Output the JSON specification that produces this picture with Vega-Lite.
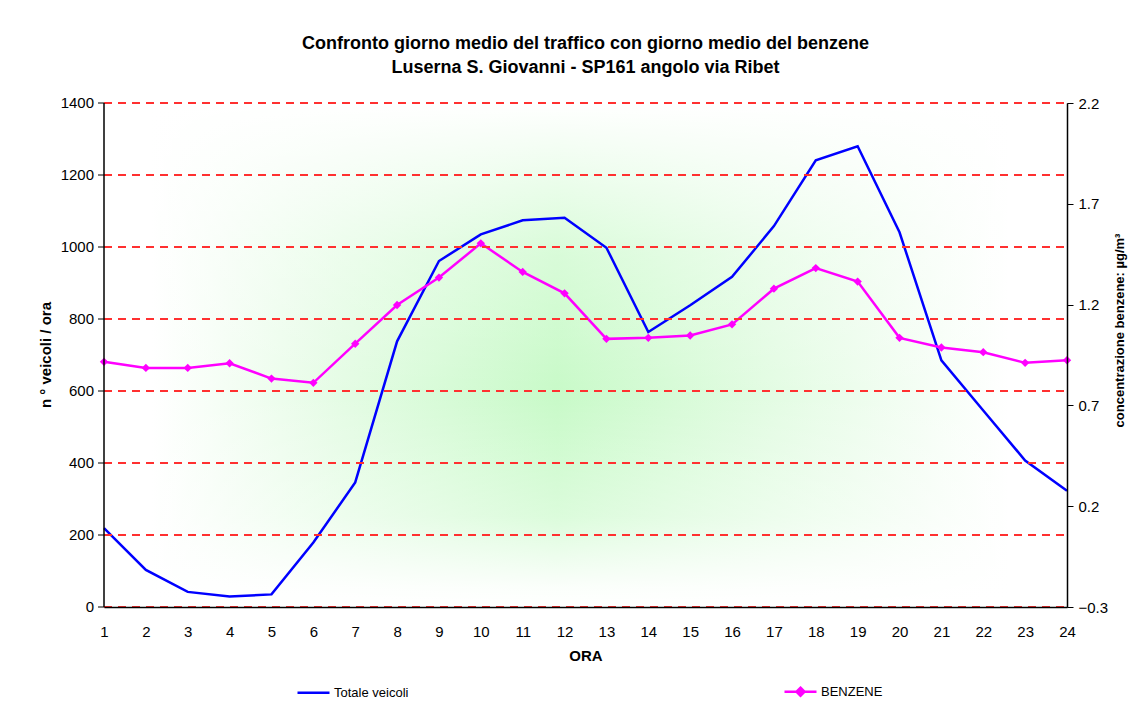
{
  "$schema": "https://vega.github.io/schema/vega-lite/v6.json",
  "autosize": "none",
  "width": 963,
  "height": 504,
  "padding": {"left": 104, "top": 103, "right": 67, "bottom": 96},
  "background": "white",
  "title": {
    "text": ["Confronto giorno medio  del traffico con giorno medio del benzene", "Luserna S. Giovanni - SP161 angolo via Ribet"],
    "font": "Liberation Sans",
    "fontSize": 18,
    "fontWeight": "bold",
    "color": "black",
    "anchor": "middle",
    "lineHeight": 24,
    "offset": 19
  },
  "config": {
    "font": "Liberation Sans",
    "view": {"stroke": "#808080", "strokeWidth": 1},
    "axis": {
      "labelFont": "Liberation Sans",
      "labelFontSize": 15,
      "labelColor": "black",
      "titleFont": "Liberation Sans",
      "titleColor": "black",
      "titleFontWeight": "bold",
      "domainColor": "black",
      "domainWidth": 1.5,
      "tickColor": "black"
    }
  },
  "datasets": {
    "bg": [{"x1": 1, "x2": 24, "y1": 0, "y2": 1400}],
    "hourly": [
      {"ora": 1, "veicoli": 219, "benzene": 0.916},
      {"ora": 2, "veicoli": 103, "benzene": 0.886},
      {"ora": 3, "veicoli": 42, "benzene": 0.886},
      {"ora": 4, "veicoli": 29, "benzene": 0.909},
      {"ora": 5, "veicoli": 35, "benzene": 0.833},
      {"ora": 6, "veicoli": 179, "benzene": 0.812},
      {"ora": 7, "veicoli": 346, "benzene": 1.006},
      {"ora": 8, "veicoli": 738, "benzene": 1.198},
      {"ora": 9, "veicoli": 961, "benzene": 1.334},
      {"ora": 10, "veicoli": 1035, "benzene": 1.504},
      {"ora": 11, "veicoli": 1074, "benzene": 1.362},
      {"ora": 12, "veicoli": 1081, "benzene": 1.256},
      {"ora": 13, "veicoli": 998, "benzene": 1.030},
      {"ora": 14, "veicoli": 764, "benzene": 1.035},
      {"ora": 15, "veicoli": 838, "benzene": 1.047},
      {"ora": 16, "veicoli": 917, "benzene": 1.102},
      {"ora": 17, "veicoli": 1058, "benzene": 1.279},
      {"ora": 18, "veicoli": 1241, "benzene": 1.381},
      {"ora": 19, "veicoli": 1280, "benzene": 1.314},
      {"ora": 20, "veicoli": 1041, "benzene": 1.035},
      {"ora": 21, "veicoli": 685, "benzene": 0.987},
      {"ora": 22, "veicoli": 546, "benzene": 0.964},
      {"ora": 23, "veicoli": 407, "benzene": 0.911},
      {"ora": 24, "veicoli": 323, "benzene": 0.924}
    ]
  },
  "layer": [
    {
      "layer": [
        {
          "data": {"name": "bg"},
          "mark": {
            "type": "rect",
            "fill": {
              "gradient": "linear", "x1": 0, "y1": 0, "x2": 1, "y2": 0,
              "stops": [
                {"offset": 0, "color": "#ffffff"},
                {"offset": 0.05, "color": "#ffffff"},
                {"offset": 0.25, "color": "#e4fce4"},
                {"offset": 0.47, "color": "#c8fac8"},
                {"offset": 0.7, "color": "#e4fce4"},
                {"offset": 0.94, "color": "#ffffff"},
                {"offset": 1, "color": "#ffffff"}
              ]
            }
          },
          "encoding": {
            "x": {"field": "x1", "type": "quantitative"},
            "x2": {"field": "x2"},
            "y": {"field": "y1", "type": "quantitative"},
            "y2": {"field": "y2"}
          }
        },
        {
          "data": {"name": "bg"},
          "mark": {
            "type": "rect",
            "fill": {
              "gradient": "linear", "x1": 0, "y1": 0, "x2": 0, "y2": 1,
              "stops": [
                {"offset": 0, "color": "rgba(255,255,255,1)"},
                {"offset": 0.04, "color": "rgba(255,255,255,0.9)"},
                {"offset": 0.3, "color": "rgba(255,255,255,0.3)"},
                {"offset": 0.58, "color": "rgba(255,255,255,0)"},
                {"offset": 0.82, "color": "rgba(255,255,255,0.35)"},
                {"offset": 0.96, "color": "rgba(255,255,255,0.92)"},
                {"offset": 1, "color": "rgba(255,255,255,1)"}
              ]
            }
          },
          "encoding": {
            "x": {"field": "x1", "type": "quantitative"},
            "x2": {"field": "x2"},
            "y": {"field": "y1", "type": "quantitative"},
            "y2": {"field": "y2"}
          }
        },
        {
          "data": {"name": "hourly"},
          "mark": {"type": "line", "strokeWidth": 2.5, "interpolate": "linear"},
          "encoding": {
            "x": {
              "field": "ora", "type": "quantitative",
              "scale": {"domain": [1, 24], "nice": false, "zero": false},
              "axis": {
                "title": "ORA",
                "titleFontSize": 15,
                "titlePadding": 9,
                "values": [1,2,3,4,5,6,7,8,9,10,11,12,13,14,15,16,17,18,19,20,21,22,23,24],
                "format": "d",
                "ticks": false,
                "labelPadding": 17,
                "grid": false,
                "labelFlush": false,
                "zindex": 2
              }
            },
            "y": {
              "field": "veicoli", "type": "quantitative",
              "scale": {"domain": [0, 1400], "nice": false},
              "axis": {
                "title": "n ° veicoli / ora",
                "titleFontSize": 15,
                "titlePadding": 7,
                "values": [0, 200, 400, 600, 800, 1000, 1200, 1400],
                "format": "d",
                "tickSize": 6,
                "labelPadding": 4,
                "grid": true,
                "gridColor": "#ff3030",
                "gridDash": [8, 6],
                "gridWidth": 1.8,
                "translate": 0,
                "zindex": 1
              }
            },
            "color": {
              "datum": "Totale veicoli",
              "type": "nominal",
              "scale": {"domain": ["Totale veicoli", "BENZENE"], "range": ["#0000ff", "#ff00ff"]},
              "legend": {
                "title": null,
                "orient": "none",
                "legendX": 192,
                "legendY": 571,
                "direction": "horizontal",
                "columns": 2,
                "columnPadding": 370,
                "symbolType": "stroke",
                "symbolSize": 1024,
                "symbolStrokeWidth": 2.5,
                "labelFont": "Liberation Sans",
                "labelFontSize": 13,
                "labelColor": "black",
                "labelOffset": 3,
                "encode": {
                  "symbols": {
                    "update": {
                      "shape": {"signal": "datum.value === 'BENZENE' ? 'M-1,0H1M0,-0.25L0.25,0L0,0.25L-0.25,0Z' : 'stroke'"},
                      "fill": {"signal": "datum.value === 'BENZENE' ? '#ff00ff' : 'transparent'"}
                    }
                  }
                }
              }
            }
          }
        }
      ]
    },
    {
      "data": {"name": "hourly"},
      "mark": {
        "type": "line",
        "strokeWidth": 2.5,
        "point": {"shape": "diamond", "filled": true, "size": 70}
      },
      "encoding": {
        "x": {"field": "ora", "type": "quantitative"},
        "y": {
          "field": "benzene", "type": "quantitative",
          "scale": {"domain": [-0.3, 2.2], "nice": false, "zero": false},
          "axis": {
            "orient": "right",
            "title": "concentrazione benzene: µg/m³",
            "titleFontSize": 13,
            "titleAngle": 270,
            "titlePadding": 19,
            "titleY": 227,
            "values": [-0.3, 0.2, 0.7, 1.2, 1.7, 2.2],
            "format": ".1f",
            "tickSize": 6,
            "labelPadding": 5,
            "grid": false,
            "zindex": 2
          }
        },
        "color": {"datum": "BENZENE", "type": "nominal"}
      }
    }
  ],
  "resolve": {"scale": {"y": "independent"}}
}
